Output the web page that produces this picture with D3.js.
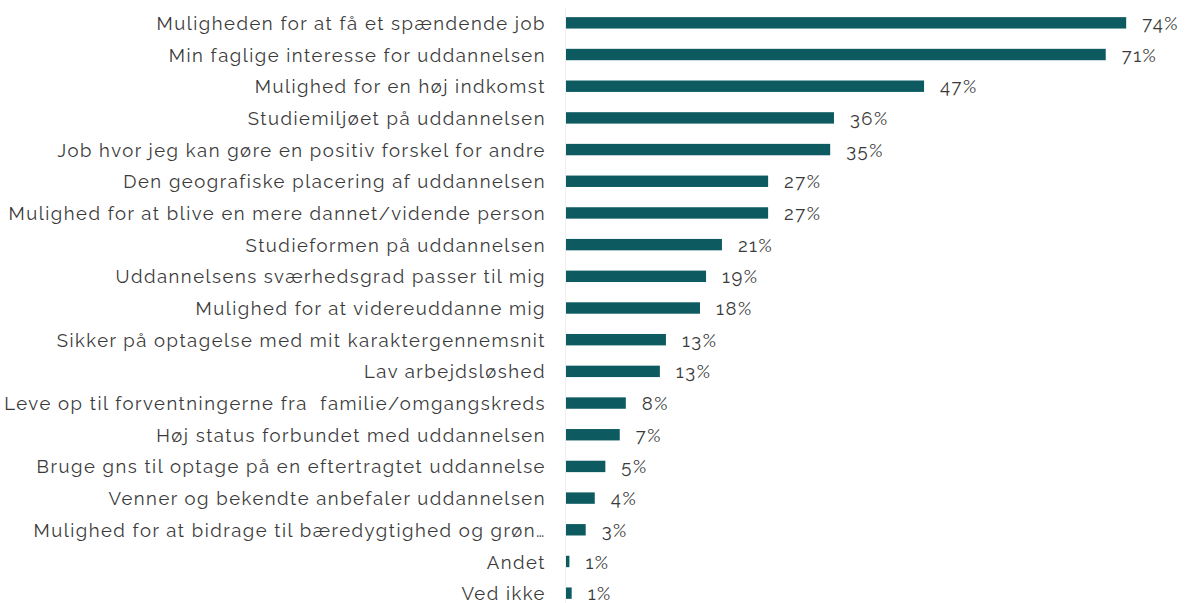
<!DOCTYPE html>
<html>
<head>
<meta charset="utf-8">
<script src="https://cdn.jsdelivr.net/npm/d3@7"></script>
<style>
  body { margin: 0; background: #fff; }
  text { font-family: "Raleway", "Lato", "Noto Sans", sans-serif; fill: #3a3a3a; white-space: pre; }
</style>
</head>
<body>
<svg id="chart"></svg>
<script>
// categories, top to bottom
var categories = [
  "Muligheden for at få et spændende job",
  "Min faglige interesse for uddannelsen",
  "Mulighed for en høj indkomst",
  "Studiemiljøet på uddannelsen",
  "Job hvor jeg kan gøre en positiv forskel for andre",
  "Den geografiske placering af uddannelsen",
  "Mulighed for at blive en mere dannet/vidende person",
  "Studieformen på uddannelsen",
  "Uddannelsens sværhedsgrad passer til mig",
  "Mulighed for at videreuddanne mig",
  "Sikker på optagelse med mit karaktergennemsnit",
  "Lav arbejdsløshed",
  "Leve op til forventningerne fra  familie/omgangskreds",
  "Høj status forbundet med uddannelsen",
  "Bruge gns til optage på en eftertragtet uddannelse",
  "Venner og bekendte anbefaler uddannelsen",
  "Mulighed for at bidrage til bæredygtighed og grøn…",
  "Andet",
  "Ved ikke"
];

// share in percent
var values = [74.0, 71.3, 47.3, 35.4, 34.9, 26.7, 26.7, 20.6, 18.5, 17.7,
              13.2, 12.4, 7.9, 7.1, 5.2, 3.8, 2.6, 0.45, 0.75];

// printed labels
var valueLabels = ["74%", "71%", "47%", "36%", "35%", "27%", "27%", "21%", "19%", "18%",
                   "13%", "13%", "8%", "7%", "5%", "4%", "3%", "1%", "1%"];

var width = 1189, height = 603;

var svg = d3.select("#chart")
  .attr("width", width)
  .attr("height", height);

var x = d3.scaleLinear()
  .domain([0, 100])
  .range([566, 566 + 757]);

var y = d3.scaleBand()
  .domain(categories)
  .range([7, 609])
  .paddingInner(0.64)
  .paddingOuter(0.32);

// faint axis line
svg.append("line")
  .attr("x1", 565.5).attr("x2", 565.5)
  .attr("y1", 8).attr("y2", 603)
  .style("stroke", "#f0f0f0")
  .style("stroke-width", 1);

var rows = svg.selectAll(".row")
  .data(categories)
  .enter()
  .append("g")
  .attr("class", "row");

rows.append("rect")
  .attr("x", x(0))
  .attr("y", function(d) { return y(d); })
  .attr("width", function(d, i) { return x(values[i]) - x(0); })
  .attr("height", y.bandwidth())
  .style("fill", "#0d5b60");

// category labels
var catText = rows.append("text")
  .attr("class", "cat")
  .attr("x", 546)
  .attr("y", function(d) { return y(d) + y.bandwidth() / 2; })
  .attr("dy", "0.38em")
  .attr("text-anchor", "end")
  .style("font-size", "18.5px")
  .text(function(d) { return d; });

// stretch spacing so the longest label is as wide as in the original (~536px)
var longest = catText.filter(function(d, i) { return i === 6; });
var w = longest.node().getComputedTextLength();
var n = categories[6].length;
var ls = Math.max(0, (536 - w) / (n - 1));
catText.style("letter-spacing", ls + "px");

// value labels
rows.append("text")
  .attr("x", function(d, i) { return x(values[i]) + 16; })
  .attr("y", function(d) { return y(d) + y.bandwidth() / 2; })
  .attr("dy", "0.38em")
  .style("font-size", "18.5px")
  .style("letter-spacing", ls + "px")
  .text(function(d, i) { return valueLabels[i]; });
</script>
</body>
</html>
